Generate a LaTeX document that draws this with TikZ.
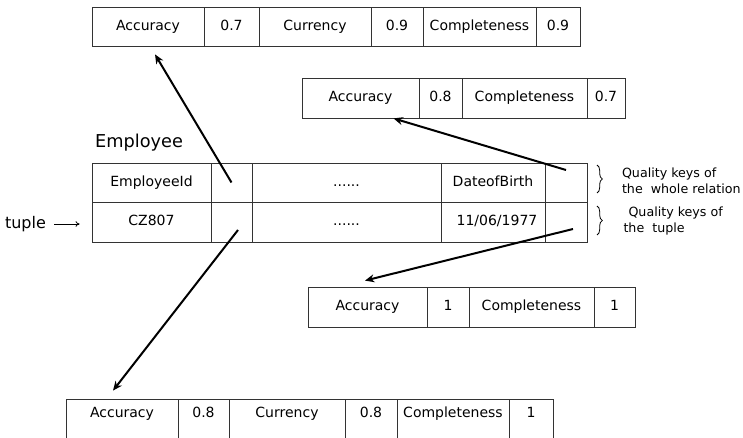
\documentclass[tikz,border=0pt]{standalone}
\usepackage{fontspec}
\setmainfont{DejaVu Sans}
\usetikzlibrary{arrows.meta,calc,decorations.pathreplacing}

\tikzset{every picture/.style={line width=0.75pt}}
\tikzset{
  cell/.style={draw=black!80, line width=0.6pt, rectangle, inner sep=0pt,
    minimum height=30pt, font=\fontsize{10.5}{12}\selectfont,
    text height=7.5pt, text depth=2pt},
  lowcell/.style={cell, minimum height=30.75pt, text depth=11pt},
  keyarrow/.style={line width=1.5pt, -{Stealth[length=7pt,width=6pt]}},
  keybrace/.style={line width=0.6pt, decorate, decoration={brace,amplitude=4pt}},
  note/.style={font=\fontsize{9.5}{12}\selectfont, align=left, anchor=west, inner sep=0pt},
}

\begin{document}
\begin{tikzpicture}[x=0.75pt,y=0.75pt,yscale=-1,xscale=1]
\path[use as bounding box, clip] (0,0) rectangle (743,438);

% quality keys of the whole relation (top)
\node[cell, minimum width=84pt, minimum height=29.25pt] (tacc) at (148,26.5) {Accuracy};
\node[cell, minimum width=41.25pt, minimum height=29.25pt] (tav) at (231.5,26.5) {0.7};
\node[cell, minimum width=84pt, minimum height=29.25pt] (tcur) at (315,26.5) {Currency};
\node[cell, minimum width=39pt, minimum height=29.25pt] (tcv) at (397,26.5) {0.9};
\node[cell, minimum width=84.75pt, minimum height=29.25pt] (tcomp) at (479.5,26.5) {Completeness};
\node[cell, minimum width=33pt, minimum height=29.25pt] (tmv) at (558,26.5) {0.9};

% quality keys of the DateofBirth attribute
\node[cell, minimum width=87.75pt] (racc) at (360.5,98) {Accuracy};
\node[cell, minimum width=32.25pt] (rav) at (440.5,98) {0.8};
\node[cell, minimum width=93.75pt] (rcomp) at (524.5,98) {Completeness};
\node[cell, minimum width=28.5pt] (rmv) at (606,98) {0.7};

% Employee relation
\node[font=\fontsize{13.3}{16}\selectfont] (ename) at (139,142.5) {Employee};

\node[cell, minimum width=89.25pt, minimum height=29.25pt] (eid) at (151.5,182.5) {EmployeeId};
\node[cell, minimum width=30.75pt, minimum height=29.25pt] (eq1) at (231.5,182.5) {};
\node[cell, minimum width=141.75pt, minimum height=29.25pt] (edots1) at (346.5,182.5) {......\hspace{13pt}};
\node[cell, minimum width=78pt, minimum height=29.25pt] (edob) at (493,182.5) {DateofBirth};
\node[cell, minimum width=31.5pt, minimum height=29.25pt] (eqr) at (566,182.5) {};

\node[cell, minimum width=89.25pt] (ecz) at (151.5,222) {CZ807\hspace{10pt}};
\node[cell, minimum width=30.75pt] (eq2) at (231.5,222) {};
\node[cell, minimum width=141.75pt] (edots2) at (346.5,222) {......\hspace{13pt}};
\node[cell, minimum width=78pt] (ebirth) at (493,222) {\hspace{6pt}11/06/1977};
\node[cell, minimum width=31.5pt] (eqt) at (566,222) {};

% tuple
\node[font=\fontsize{12}{14}\selectfont] (tuple) at (25.5,224) {tuple};
\draw[line width=0.6pt, -{To[length=3pt,width=4pt]}, shorten <=2.5pt, shorten >=9pt] (tuple) -- (tuple -| ecz.west);

% braces and notes
\draw[keybrace] (597,165) -- (597,193);
\draw[keybrace] (597,206) -- (597,235);
\node[note] (qrel) at (621.5,181) {Quality keys of\\the\ \ whole relation};
\node[note] (qtup) at (623,221.5) {\hspace*{3.75pt}Quality keys of\\the\ \ tuple};

% quality keys of the DateofBirth value of the tuple
\node[cell, minimum width=89.25pt] (uacc) at (367.5,307) {Accuracy};
\node[cell, minimum width=31.5pt] (uav) at (448,307) {1\hspace{10pt}};
\node[cell, minimum width=93.75pt] (ucomp) at (531.5,307) {Completeness};
\node[cell, minimum width=30.75pt] (umv) at (614.5,307) {1};

% quality keys of the tuple (bottom)
\node[lowcell, minimum width=84pt] (bacc) at (122,419.5) {Accuracy};
\node[lowcell, minimum width=38.25pt] (bav) at (203.5,419.5) {0.8};
\node[lowcell, minimum width=87pt] (bcur) at (287,419.5) {Currency};
\node[lowcell, minimum width=39pt] (bcv) at (371,419.5) {0.8};
\node[lowcell, minimum width=84pt] (bcomp) at (453,419.5) {Completeness};
\node[lowcell, minimum width=33pt] (bmv) at (531,419.5) {1};

% arrows
\draw[keyarrow] (eq1.center) -- ($(tacc.south)+(7,8)$);
\draw[keyarrow] ($(eqr.center)+(0,-12.5)$) -- ($(racc.south)+(33,0)$);
\draw[keyarrow] ($(eqt.center)+(7,7)$) -- ($(uacc.north)+(-2.5,-6)$);
\draw[keyarrow] ($(eq2.center)+(6.5,8)$) -- ($(bacc.north)+(-9,-8)$);

\end{tikzpicture}
\end{document}
